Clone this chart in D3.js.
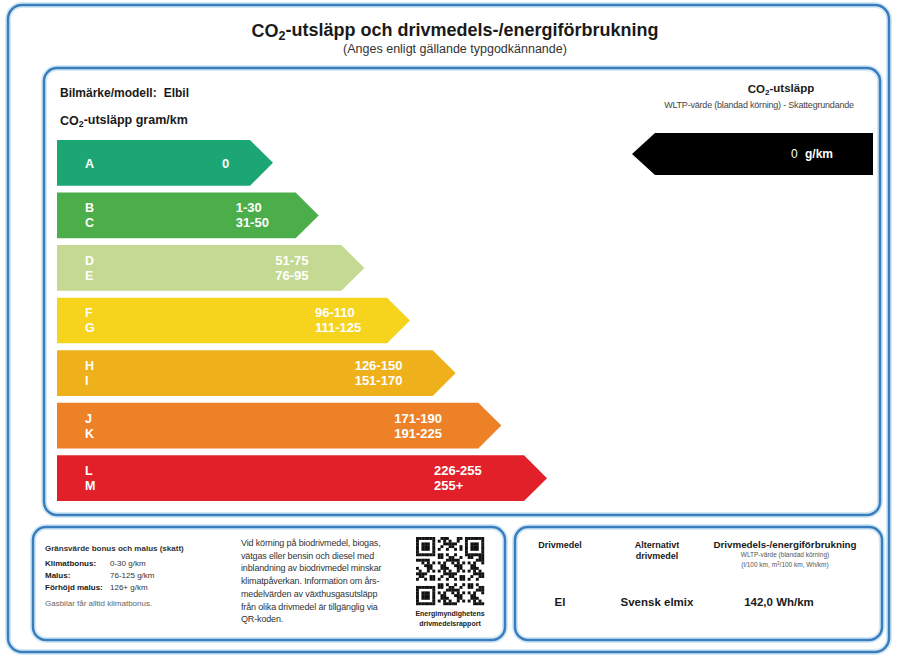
<!DOCTYPE html>
<html>
<head>
<meta charset="utf-8">
<script src="https://cdn.jsdelivr.net/npm/d3@7"></script>
<style>
  body { margin: 0; background: #fff; }
  svg { display: block; font-family: 'Liberation Sans', Arial, sans-serif; }
</style>
</head>
<body>
<div id="chart"></div>
<script>
// energy classes, top to bottom
const classLetters = [['A'], ['B', 'C'], ['D', 'E'], ['F', 'G'], ['H', 'I'], ['J', 'K'], ['L', 'M']]
const classRanges = [['0'], ['1-30', '31-50'], ['51-75', '76-95'], ['96-110', '111-125'],
  ['126-150', '151-170'], ['171-190', '191-225'], ['226-255', '255+']]
const classColors = ['#1ba673', '#4bae4a', '#c4d991', '#f6d31d', '#eeb11b', '#ec8128', '#e2202a']

const co2Value = 0
const co2Unit = 'g/km'
const model = 'Elbil'

const bonusRows = [
  ['Klimatbonus:', '0-30 g/km'],
  ['Malus:', '76-125 g/km'],
  ['Förhöjd malus:', '126+ g/km']
]
const infoLines = [
  'Vid körning på biodrivmedel, biogas,',
  'vätgas eller bensin och diesel med',
  'inblandning av biodrivmedel minskar',
  'klimatpåverkan. Information om års-',
  'medelvärden av växthusgasutsläpp',
  'från olika drivmedel är tillgänglig via',
  'QR-koden.'
]
const fuelHeaders = [['Drivmedel'], ['Alternativt', 'drivmedel'], ['Drivmedels-/energiförbrukning']]
const fuelValues = ['El', 'Svensk elmix', '142,0 Wh/km']

const width = 897
const height = 657
const blue = '#3a7dbd'
const halo = '#d3e8f6'

const svg = d3
  .select('#chart')
  .append('svg')
  .attr('width', width)
  .attr('height', height)

function panel(x, y, w, h, r) {
  svg.append('rect')
    .attr('x', x).attr('y', y).attr('width', w).attr('height', h)
    .attr('rx', r)
    .attr('fill', 'none')
    .attr('stroke', halo)
    .attr('stroke-width', 6)
  svg.append('rect')
    .attr('x', x).attr('y', y).attr('width', w).attr('height', h)
    .attr('rx', r)
    .attr('fill', 'none')
    .attr('stroke', blue)
    .attr('stroke-width', 2.5)
}

panel(8, 5, 881, 647, 14)
panel(44, 68, 836, 447, 13)
panel(33, 527, 472, 113, 13)
panel(515, 527, 367, 113, 13)

// CO2 label with subscript
function co2Text(sel, rest) {
  sel.append('tspan').text('CO')
  sel.append('tspan').text('2').attr('font-size', '0.7em').attr('dy', '0.25em')
  sel.append('tspan').text(rest).attr('dy', '-0.25em')
}

// title
svg.append('text')
  .attr('x', 455).attr('y', 37)
  .attr('text-anchor', 'middle')
  .attr('font-size', 18).attr('font-weight', 'bold')
  .attr('fill', '#1a1a1a')
  .call(co2Text, '-utsläpp och drivmedels-/energiförbrukning')

svg.append('text')
  .attr('x', 455).attr('y', 53)
  .attr('text-anchor', 'middle')
  .attr('font-size', 12.5)
  .attr('fill', '#333')
  .text('(Anges enligt gällande typgodkännande)')

// model line
const modelText = svg.append('text')
  .attr('x', 60).attr('y', 97)
  .attr('font-size', 12).attr('font-weight', 'bold')
  .attr('fill', '#1a1a1a')
modelText.append('tspan').text('Bilmärke/modell:')
modelText.append('tspan').text(model).attr('dx', 7)

svg.append('text')
  .attr('x', 60).attr('y', 125)
  .attr('font-size', 12.5).attr('font-weight', 'bold')
  .attr('fill', '#1a1a1a')
  .call(co2Text, '-utsläpp gram/km')

// class bars
const idx = d3.range(classLetters.length)
const yScale = d3.scaleBand().domain(idx).range([140, 501]).paddingInner(0.13)
const tipScale = d3.scaleLinear().domain([0, idx.length - 1]).range([273, 547])
const barLeft = 57
const tipLen = 23

const bars = svg.selectAll('.bar')
  .data(idx)
  .enter()
  .append('g')
  .attr('class', 'bar')
  .attr('transform', i => 'translate(0,' + yScale(i) + ')')

bars.append('path')
  .attr('d', i => {
    const h = yScale.bandwidth()
    const tip = tipScale(i)
    return 'M' + barLeft + ',0H' + (tip - tipLen) + 'L' + tip + ',' + h / 2 +
      'L' + (tip - tipLen) + ',' + h + 'H' + barLeft + 'Z'
  })
  .attr('fill', i => classColors[i])

function lineY(i, k) {
  const h = yScale.bandwidth()
  const n = classLetters[i].length
  if (n === 1) return h / 2 + 5
  return h / 2 - 3 + k * 15
}

bars.each(function (i) {
  const g = d3.select(this)
  classLetters[i].forEach((l, k) => {
    g.append('text')
      .attr('x', 85).attr('y', lineY(i, k))
      .attr('font-size', 12.5).attr('font-weight', 'bold')
      .attr('fill', '#fff')
      .text(l)
  })
  const labelX = i === 0 ? tipScale(i) - 51 : tipScale(i) - 83 - 6 * (i - 1)
  classRanges[i].forEach((r, k) => {
    g.append('text')
      .attr('x', labelX).attr('y', lineY(i, k))
      .attr('font-size', 13).attr('font-weight', 'bold')
      .attr('fill', '#fff')
      .text(r)
  })
})

// right side: CO2 value arrow
svg.append('text')
  .attr('x', 781).attr('y', 93)
  .attr('text-anchor', 'middle')
  .attr('font-size', 11.5).attr('font-weight', 'bold')
  .attr('fill', '#1a1a1a')
  .call(co2Text, '-utsläpp')

svg.append('text')
  .attr('x', 759).attr('y', 108)
  .attr('text-anchor', 'middle')
  .attr('font-size', 9)
  .attr('letter-spacing', -0.2)
  .attr('fill', '#444')
  .text('WLTP-värde (blandad körning) - Skattegrundande')

svg.append('path')
  .attr('d', 'M632,154L655,133H873V175H655Z')
  .attr('fill', '#000')

const valText = svg.append('text')
  .attr('x', 791).attr('y', 158)
  .attr('font-size', 12)
  .attr('fill', '#fff')
valText.append('tspan').text(co2Value)
valText.append('tspan').text(' ' + co2Unit).attr('dx', 4).attr('font-weight', 'bold')

// bottom left panel
svg.append('text')
  .attr('x', 45).attr('y', 551)
  .attr('font-size', 8).attr('font-weight', 'bold')
  .attr('fill', '#333')
  .text('Gränsvärde bonus och malus (skatt)')

bonusRows.forEach((row, k) => {
  svg.append('text')
    .attr('x', 45).attr('y', 566 + k * 12)
    .attr('font-size', 8).attr('font-weight', 'bold')
    .attr('fill', '#1a1a1a')
    .text(row[0])
  svg.append('text')
    .attr('x', 110).attr('y', 566 + k * 12)
    .attr('font-size', 8)
    .attr('fill', '#333')
    .text(row[1])
})

svg.append('text')
  .attr('x', 45).attr('y', 606)
  .attr('font-size', 8)
  .attr('fill', '#666')
  .text('Gasbilar får alltid klimatbonus.')

infoLines.forEach((line, k) => {
  svg.append('text')
    .attr('x', 241).attr('y', 546 + k * 12.7)
    .attr('font-size', 9)
    .attr('letter-spacing', -0.15)
    .attr('fill', '#333')
    .text(line)
})

// QR code (decorative pattern)
const qrN = 25
const qrSize = 68
const qrX = 416
const qrY = 537
const cell = qrSize / qrN
const qrCells = []
function finder(cx, cy, x, y) {
  const dx = x - cx
  const dy = y - cy
  if (dx < 0 || dy < 0 || dx > 6 || dy > 6) return null
  if (dx === 0 || dy === 0 || dx === 6 || dy === 6) return true
  if (dx >= 2 && dx <= 4 && dy >= 2 && dy <= 4) return true
  return false
}
for (let y = 0; y < qrN; y++) {
  for (let x = 0; x < qrN; x++) {
    let on = finder(0, 0, x, y)
    if (on === null) on = finder(qrN - 7, 0, x, y)
    if (on === null) on = finder(0, qrN - 7, x, y)
    if (on === null) {
      if ((x === 7 || y === 7) && (x < 8 && y < 8)) on = false
      else if ((x === qrN - 8 && y < 8) || (y === qrN - 8 && x < 8)) on = false
      else on = ((x * 31 + y * 17 + x * y * 7) % 11) < 5
    }
    if (on) qrCells.push([x, y])
  }
}
svg.append('g')
  .selectAll('rect')
  .data(qrCells)
  .enter()
  .append('rect')
  .attr('x', d => qrX + d[0] * cell)
  .attr('y', d => qrY + d[1] * cell)
  .attr('width', cell + 0.2)
  .attr('height', cell + 0.2)
  .attr('fill', '#111')

svg.append('text')
  .attr('x', qrX + qrSize / 2).attr('y', 616)
  .attr('text-anchor', 'middle')
  .attr('font-size', 7).attr('font-weight', 'bold')
  .attr('fill', '#1a1a1a')
  .text('Energimyndighetens')
svg.append('text')
  .attr('x', qrX + qrSize / 2).attr('y', 626)
  .attr('text-anchor', 'middle')
  .attr('font-size', 7).attr('font-weight', 'bold')
  .attr('fill', '#1a1a1a')
  .text('drivmedelsrapport')

// bottom right panel
const colX = [560, 657, 785]
fuelHeaders.forEach((lines, c) => {
  lines.forEach((l, k) => {
    svg.append('text')
      .attr('x', colX[c]).attr('y', 548 + k * 11)
      .attr('text-anchor', 'middle')
      .attr('font-size', c === 2 ? 9.8 : 9).attr('font-weight', 'bold')
      .attr('fill', '#1a1a1a')
      .text(l)
  })
})
svg.append('text')
  .attr('x', colX[2]).attr('y', 557)
  .attr('text-anchor', 'middle')
  .attr('font-size', 6.5)
  .attr('fill', '#555')
  .text('WLTP-värde (blandad körning)')
const unitsText = svg.append('text')
  .attr('x', colX[2]).attr('y', 567)
  .attr('text-anchor', 'middle')
  .attr('font-size', 6.5)
  .attr('fill', '#555')
unitsText.append('tspan').text('(l/100 km, m')
unitsText.append('tspan').text('3').attr('font-size', 4.5).attr('dy', -2)
unitsText.append('tspan').text('/100 km, Wh/km)').attr('dy', 2)

fuelValues.forEach((v, c) => {
  svg.append('text')
    .attr('x', c === 2 ? 779 : colX[c]).attr('y', 606)
    .attr('text-anchor', 'middle')
    .attr('font-size', 11.5).attr('font-weight', 'bold')
    .attr('fill', '#1a1a1a')
    .text(v)
})
</script>
</body>
</html>
